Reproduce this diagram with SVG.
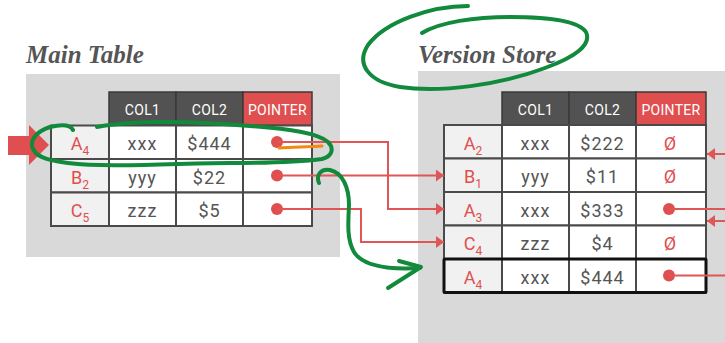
<svg xmlns="http://www.w3.org/2000/svg" width="725" height="343" viewBox="0 0 725 343">
<defs>
<style>
.bg{fill:#d9d9d9}
.hd{fill:#525252;stroke:#3a3a3a;stroke-width:1.5}
.hdp{fill:#df4f4f;stroke:#3a3a3a;stroke-width:1.5}
.ht{fill:#fff;font-family:Roboto,"Liberation Sans",sans-serif;font-size:14px;text-anchor:middle;letter-spacing:0.3px}
.lc{fill:#f1f1f1;stroke:#4a4a4a;stroke-width:2}
.c{fill:#fff;stroke:#4a4a4a;stroke-width:2}
.t{fill:#555;font-family:Roboto,"Liberation Sans",sans-serif;font-size:18px;text-anchor:middle;letter-spacing:1px}
.lb{fill:#df4f4f;font-family:Roboto,"Liberation Sans",sans-serif;font-size:18px;text-anchor:middle}
.sub{font-size:12px}
.dot{fill:#df4f4f}
.ln{stroke:#e05555;stroke-width:2;fill:none}
.title{fill:#555;font-family:"Liberation Serif",serif;font-weight:bold;font-style:italic;font-size:25px}
.g{stroke:#118a3c;stroke-width:4;fill:none;stroke-linecap:round;stroke-linejoin:round}
</style>
<marker id="ah" markerUnits="userSpaceOnUse" markerWidth="8" markerHeight="12" refX="8" refY="6" orient="auto">
<path d="M0,0 L8,6 L0,12 z" fill="#e05555"/>
</marker>
</defs>

<!-- backgrounds -->
<rect class="bg" x="26" y="74" width="314" height="183"/>
<rect class="bg" x="418" y="71" width="307" height="272"/>

<text class="title" x="26" y="63">Main Table</text>
<text class="title" x="418" y="63">Version Store</text>

<!-- big input arrow -->
<path d="M8,136 L29,136 L29,125 L49,145 L29,165 L29,155 L8,155 z" fill="#df4f4f"/>

<!-- Main table -->
<g id="main-header">
<rect class="hd" x="109" y="92" width="67" height="33.5"/>
<rect class="hd" x="176" y="92" width="67" height="33.5"/>
<rect class="hdp" x="243" y="92" width="69" height="33.5"/>
<text class="ht" x="142.5" y="115">COL1</text>
<text class="ht" x="209.5" y="115">COL2</text>
<text class="ht" x="277.5" y="115">POINTER</text>
</g>
<g id="main-A4">
<rect class="lc" x="51" y="125.5" width="58" height="33.5"/>
<rect class="c" x="109" y="125.5" width="67" height="33.5"/>
<rect class="c" x="176" y="125.5" width="67" height="33.5"/>
<rect class="c" x="243" y="125.5" width="69" height="33.5"/>
<text class="lb" x="80" y="150">A<tspan class="sub" dy="5">4</tspan></text>
<text class="t" x="142.5" y="150">xxx</text>
<text class="t" x="209.5" y="150">$444</text>
<circle class="dot" cx="277" cy="142" r="6"/>
</g>
<g id="main-B2">
<rect class="lc" x="51" y="159" width="58" height="33.5"/>
<rect class="c" x="109" y="159" width="67" height="33.5"/>
<rect class="c" x="176" y="159" width="67" height="33.5"/>
<rect class="c" x="243" y="159" width="69" height="33.5"/>
<text class="lb" x="80" y="183.5">B<tspan class="sub" dy="5">2</tspan></text>
<text class="t" x="142.5" y="183.5">yyy</text>
<text class="t" x="209.5" y="183.5">$22</text>
<circle class="dot" cx="277" cy="175.5" r="6"/>
</g>
<g id="main-C5">
<rect class="lc" x="51" y="192.5" width="58" height="33.5"/>
<rect class="c" x="109" y="192.5" width="67" height="33.5"/>
<rect class="c" x="176" y="192.5" width="67" height="33.5"/>
<rect class="c" x="243" y="192.5" width="69" height="33.5"/>
<text class="lb" x="80" y="217">C<tspan class="sub" dy="5">5</tspan></text>
<text class="t" x="142.5" y="217">zzz</text>
<text class="t" x="209.5" y="217">$5</text>
<circle class="dot" cx="277" cy="209" r="6"/>
</g>

<!-- Version store table -->
<g id="vs-header">
<rect class="hd" x="502" y="92" width="67" height="33"/>
<rect class="hd" x="569" y="92" width="67" height="33"/>
<rect class="hdp" x="636" y="92" width="70" height="33"/>
<text class="ht" x="535.5" y="115">COL1</text>
<text class="ht" x="602.5" y="115">COL2</text>
<text class="ht" x="671" y="115">POINTER</text>
</g>
<g id="vs-A2">
<rect class="lc" x="444" y="125" width="58" height="33.5"/>
<rect class="c" x="502" y="125" width="67" height="33.5"/>
<rect class="c" x="569" y="125" width="67" height="33.5"/>
<rect class="c" x="636" y="125" width="70" height="33.5"/>
<text class="lb" x="473" y="149.5">A<tspan class="sub" dy="5">2</tspan></text>
<text class="t" x="535.5" y="149.5">xxx</text>
<text class="t" x="602.5" y="149.5">$222</text>
<text class="lb" x="670" y="149.5">Ø</text>
</g>
<g id="vs-B1">
<rect class="lc" x="444" y="158.5" width="58" height="33.5"/>
<rect class="c" x="502" y="158.5" width="67" height="33.5"/>
<rect class="c" x="569" y="158.5" width="67" height="33.5"/>
<rect class="c" x="636" y="158.5" width="70" height="33.5"/>
<text class="lb" x="473" y="183">B<tspan class="sub" dy="5">1</tspan></text>
<text class="t" x="535.5" y="183">yyy</text>
<text class="t" x="602.5" y="183">$11</text>
<text class="lb" x="670" y="183">Ø</text>
</g>
<g id="vs-A3">
<rect class="lc" x="444" y="192" width="58" height="33.5"/>
<rect class="c" x="502" y="192" width="67" height="33.5"/>
<rect class="c" x="569" y="192" width="67" height="33.5"/>
<rect class="c" x="636" y="192" width="70" height="33.5"/>
<text class="lb" x="473" y="216.5">A<tspan class="sub" dy="5">3</tspan></text>
<text class="t" x="535.5" y="216.5">xxx</text>
<text class="t" x="602.5" y="216.5">$333</text>
<circle class="dot" cx="669" cy="209" r="6"/>
</g>
<g id="vs-C4">
<rect class="lc" x="444" y="225.5" width="58" height="33.5"/>
<rect class="c" x="502" y="225.5" width="67" height="33.5"/>
<rect class="c" x="569" y="225.5" width="67" height="33.5"/>
<rect class="c" x="636" y="225.5" width="70" height="33.5"/>
<text class="lb" x="473" y="250">C<tspan class="sub" dy="5">4</tspan></text>
<text class="t" x="535.5" y="250">zzz</text>
<text class="t" x="602.5" y="250">$4</text>
<text class="lb" x="670" y="250">Ø</text>
</g>
<g id="vs-A4">
<rect class="lc" x="444" y="259" width="58" height="33.5"/>
<rect class="c" x="502" y="259" width="67" height="33.5"/>
<rect class="c" x="569" y="259" width="67" height="33.5"/>
<rect class="c" x="636" y="259" width="70" height="33.5"/>
<rect x="444" y="259" width="262" height="33.5" fill="none" stroke="#111" stroke-width="3" rx="1"/>
<text class="lb" x="473" y="283.5">A<tspan class="sub" dy="5">4</tspan></text>
<text class="t" x="535.5" y="283.5">xxx</text>
<text class="t" x="602.5" y="283.5">$444</text>
<circle class="dot" cx="669" cy="275.5" r="6"/>
</g>

<!-- connectors -->
<g id="connectors">
<path class="ln" d="M277,142 H388 V209 H444" marker-end="url(#ah)"/>
<path class="ln" d="M277,175.5 H444" marker-end="url(#ah)"/>
<path class="ln" d="M277,209 H361 V242 H444" marker-end="url(#ah)"/>
<path class="ln" d="M669,209 H725"/>
<path class="ln" d="M669,275.5 H725"/>
<path class="ln" d="M725,154 H707" marker-end="url(#ah)"/>
<path class="ln" d="M725,221 H707" marker-end="url(#ah)"/>
</g>

<!-- hand-drawn annotations -->
<g id="annotations">
<path d="M279,148 C295,147 310,147 322,146" stroke="#f08a10" stroke-width="3" fill="none" stroke-linecap="round"/>
<path class="g" d="M73,130 C70,124 62,124 50,127 C38,131 31,138 32,146 C34,156 45,160 68,163 C110,168 170,163 230,163 C270,163 300,162 322,159 C333,156 334,148 328,142 C318,133 290,129 250,126 C200,122 140,119 97,127"/>
<path class="g" d="M468,6 C430,6 385,22 368,45 C355,65 370,82 400,87 C440,93 500,85 545,68 C575,57 592,45 586,32 C578,20 545,17 510,17 C475,17 440,22 422,33"/>
<path class="g" d="M319,183 C316,176 320,168 330,170 C343,173 349,188 349,205 C348,225 347,240 354,252 C362,265 385,270 420,268"/>
<path class="g" d="M399,261 L421,267 L388,288"/>
</g>
</svg>
